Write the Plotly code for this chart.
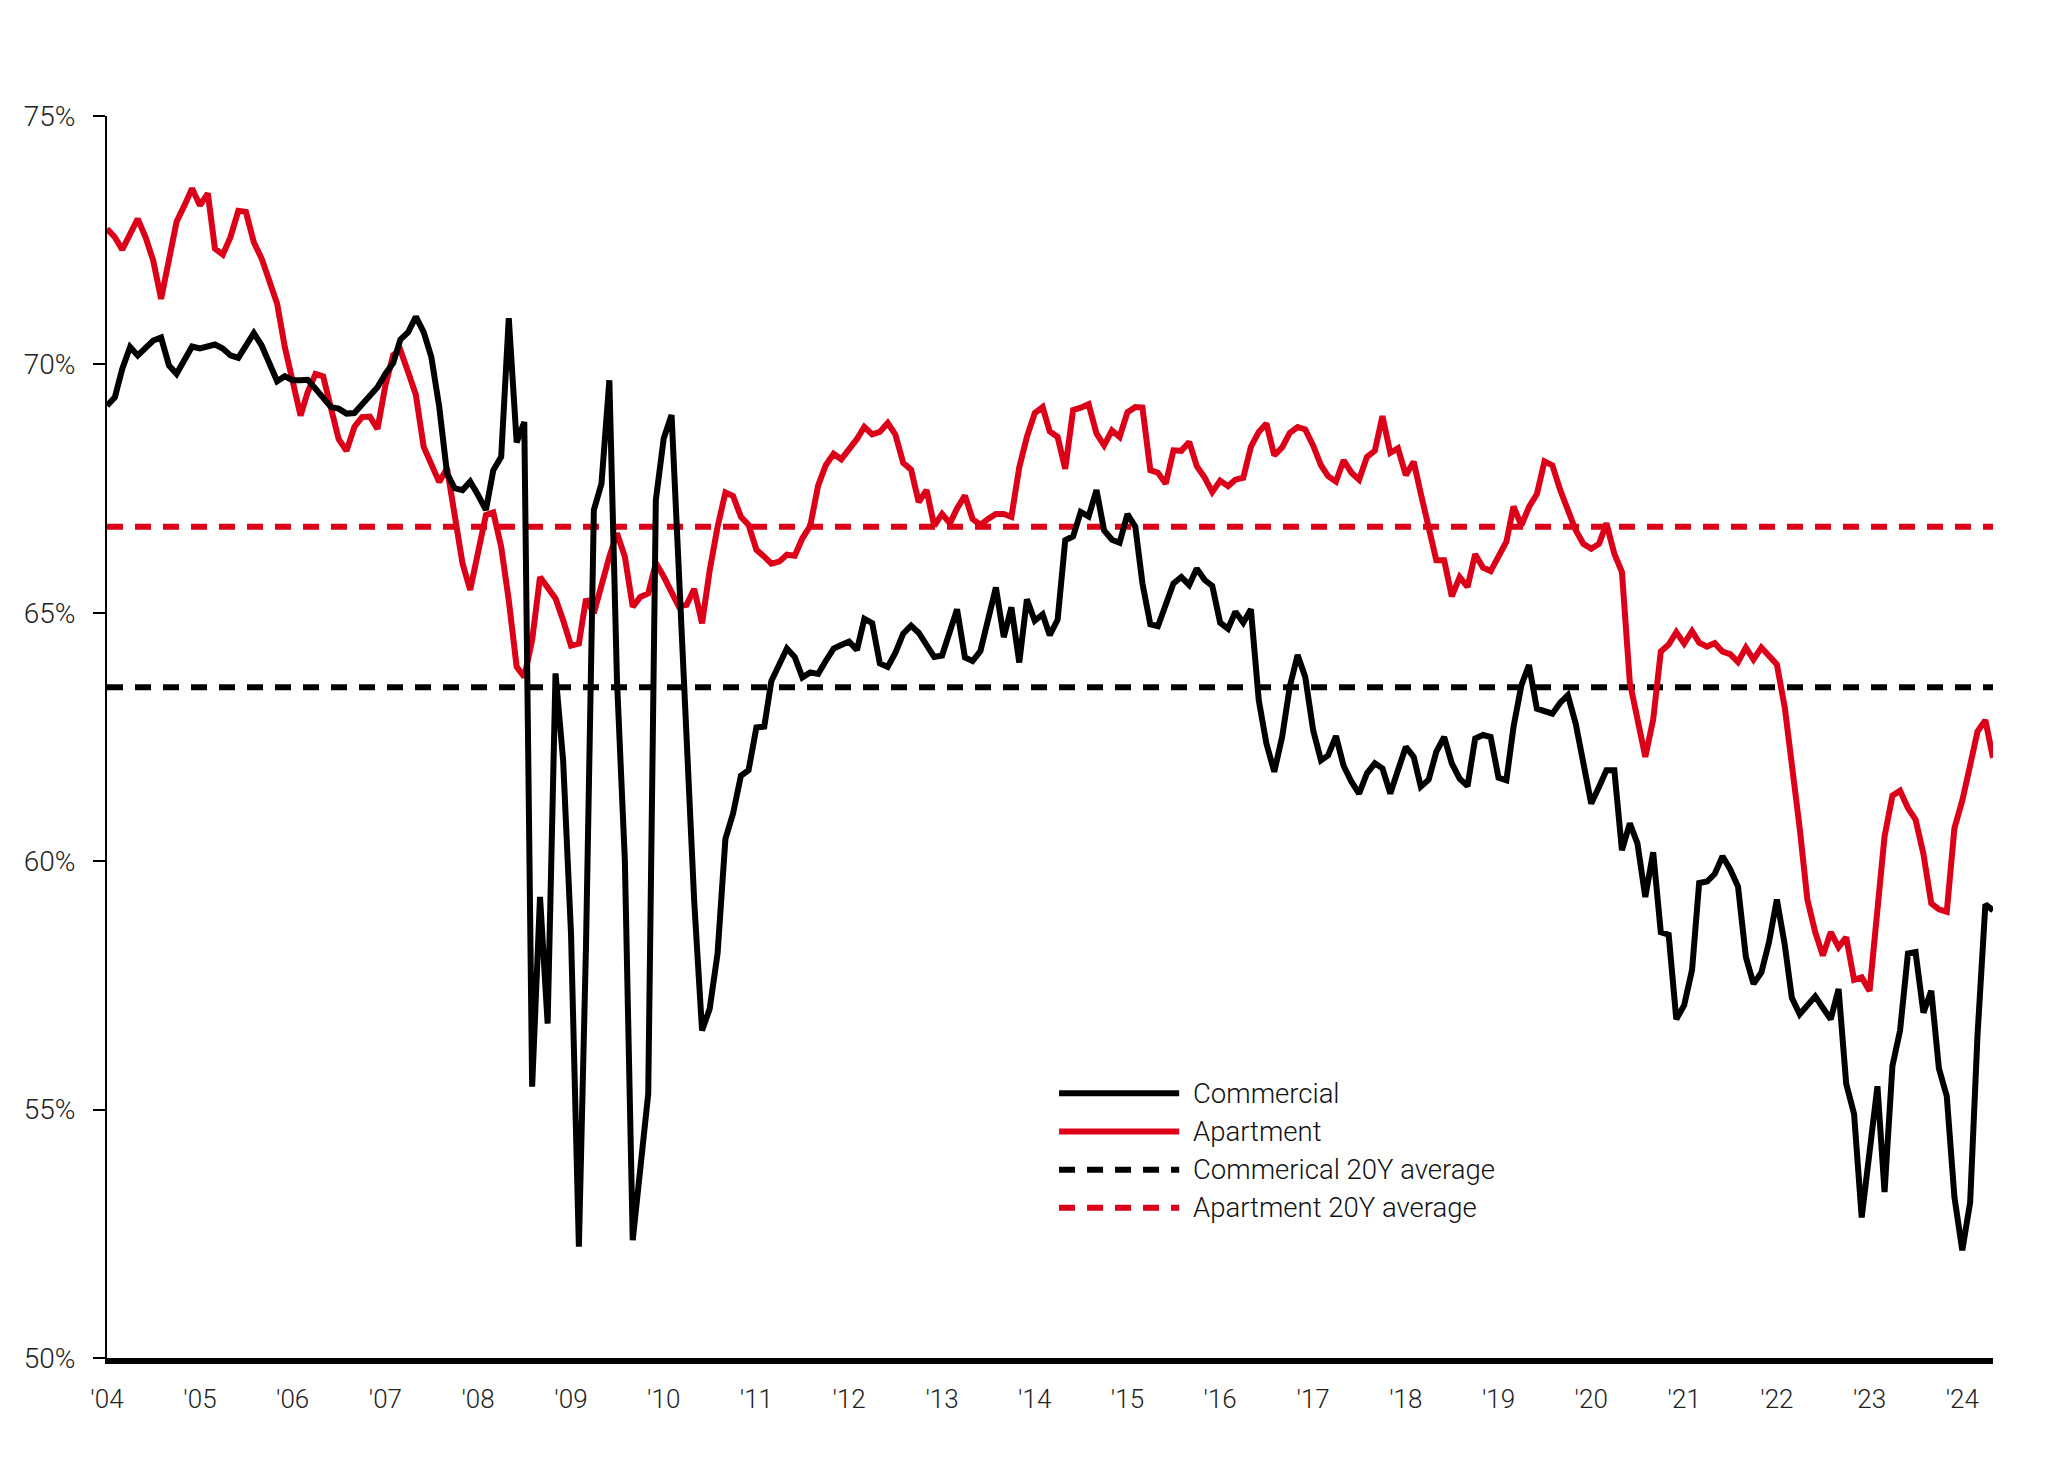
import pandas as pd
import plotly.graph_objects as go

# ---------------- data (monthly, Jan 2004 - May 2024) ----------------
start_month = "2004-01-01"

commercial = [
    69.17, 69.34, 69.91, 70.35, 70.18, 70.32, 70.48, 70.54, 69.98, 69.81, 70.08, 70.36,
    70.32, 70.36, 70.40, 70.32, 70.18, 70.13, 70.38, 70.63, 70.38, 70.05, 69.66, 69.76,
    69.68, 69.68, 69.69, 69.51, 69.34, 69.14, 69.11, 69.01, 69.02, 69.19, 69.33, 69.54,
    69.81, 70.03, 70.50, 70.65, 70.96, 70.65, 70.15, 69.15, 67.80, 67.51, 67.47, 67.64,
    67.37, 67.07, 67.87, 68.14, 70.93, 68.43, 68.84, 55.46, 59.28, 56.73, 63.78, 62.03,
    58.54, 52.24, 58.28, 67.07, 67.60, 69.68, 63.64, 60.02, 52.37, 53.85, 55.32, 67.27,
    68.51, 68.98, 66.00, 62.50, 59.20, 56.59, 57.03, 58.14, 60.45, 60.96, 61.72, 61.83,
    62.69, 62.71, 63.63, 63.96, 64.28, 64.11, 63.70, 63.80, 63.77, 64.03, 64.28, 64.35,
    64.42, 64.25, 64.88, 64.79, 63.98, 63.91, 64.19, 64.58, 64.74, 64.60, 64.35, 64.11,
    64.14, 64.65, 65.07, 64.10, 64.03, 64.23, 64.88, 65.51, 64.51, 65.11, 64.00, 65.27,
    64.84, 64.97, 64.55, 64.86, 66.46, 66.54, 67.03, 66.94, 67.47, 66.66, 66.47, 66.41,
    66.99, 66.73, 65.59, 64.77, 64.73, 65.15, 65.59, 65.72, 65.56, 65.89, 65.66, 65.54,
    64.80, 64.68, 65.02, 64.80, 65.07, 63.24, 62.37, 61.80, 62.50, 63.51, 64.15, 63.71,
    62.64, 62.03, 62.13, 62.52, 61.92, 61.60, 61.36, 61.77, 61.97, 61.87, 61.36, 61.83,
    62.30, 62.10, 61.50, 61.64, 62.20, 62.50, 61.97, 61.66, 61.51, 62.47, 62.54, 62.50,
    61.68, 61.63, 62.70, 63.54, 63.95, 63.07, 63.01, 62.97, 63.19, 63.34, 62.77, 61.90,
    61.16, 61.50, 61.83, 61.83, 60.22, 60.76, 60.36, 59.28, 60.18, 58.57, 58.52, 56.82,
    57.10, 57.81, 59.56, 59.59, 59.74, 60.10, 59.84, 59.49, 58.07, 57.53, 57.76, 58.37,
    59.23, 58.32, 57.25, 56.92, 57.12, 57.28, 57.05, 56.82, 57.43, 55.52, 54.91, 52.83,
    54.15, 55.47, 53.34, 55.88, 56.59, 58.14, 58.17, 56.95, 57.39, 55.83, 55.27, 53.24,
    52.17, 53.13, 56.50, 59.13, 59.01,
]

apartment = [
    72.73, 72.56, 72.31, 72.66, 72.93, 72.56, 72.09, 71.32, 72.09, 72.87, 73.20, 73.54,
    73.20, 73.44, 72.33, 72.21, 72.56, 73.09, 73.07, 72.46, 72.13, 71.66, 71.22, 70.35,
    69.64, 68.97, 69.44, 69.81, 69.76, 69.11, 68.50, 68.26, 68.74, 68.94, 68.95, 68.70,
    69.57, 70.19, 70.29, 69.84, 69.39, 68.34, 67.96, 67.63, 67.91, 67.00, 65.99, 65.46,
    66.26, 66.97, 67.02, 66.33, 65.25, 63.91, 63.71, 64.45, 65.72, 65.50, 65.29, 64.85,
    64.34, 64.38, 65.28, 64.99, 65.59, 66.13, 66.60, 66.13, 65.12, 65.32, 65.39, 66.00,
    65.73, 65.42, 65.13, 65.16, 65.48, 64.79, 65.85, 66.73, 67.42, 67.35, 66.93, 66.77,
    66.27, 66.13, 65.99, 66.03, 66.17, 66.15, 66.50, 66.75, 67.56, 67.97, 68.20, 68.09,
    68.28, 68.50, 68.74, 68.59, 68.64, 68.82, 68.59, 68.02, 67.88, 67.23, 67.47, 66.75,
    66.99, 66.80, 67.10, 67.36, 66.89, 66.77, 66.89, 66.99, 66.99, 66.93, 67.93, 68.54,
    69.02, 69.14, 68.65, 68.54, 67.90, 69.08, 69.13, 69.20, 68.61, 68.37, 68.67, 68.54,
    69.04, 69.14, 69.13, 67.87, 67.82, 67.60, 68.27, 68.26, 68.44, 67.95, 67.72, 67.43,
    67.66, 67.55, 67.68, 67.72, 68.34, 68.64, 68.81, 68.17, 68.33, 68.62, 68.74, 68.69,
    68.37, 67.97, 67.75, 67.64, 68.07, 67.82, 67.68, 68.14, 68.26, 68.96, 68.22, 68.31,
    67.77, 68.04, 67.40, 66.70, 66.06, 66.06, 65.33, 65.72, 65.52, 66.18, 65.91, 65.84,
    66.14, 66.43, 67.14, 66.76, 67.13, 67.39, 68.05, 67.97, 67.47, 67.03, 66.66, 66.39,
    66.29, 66.39, 66.80, 66.19, 65.82, 63.60, 62.80, 62.10, 62.85, 64.22, 64.36, 64.61,
    64.38, 64.63, 64.40, 64.32, 64.39, 64.22, 64.17, 64.01, 64.30, 64.06, 64.30, 64.13,
    63.96, 63.10, 61.98, 60.66, 59.23, 58.57, 58.10, 58.57, 58.27, 58.47, 57.61, 57.66,
    57.39, 58.98, 60.50, 61.32, 61.42, 61.07, 60.84, 60.15, 59.15, 59.03, 58.98, 60.66,
    61.22, 61.93, 62.61, 62.84, 62.08,
]

commercial_avg = 63.50
apartment_avg = 66.73

tick_years = list(range(2004, 2025))
tick_labels = ["'04", "'05", "'06", "'07", "'08", "'09", "'10", "'11", "'12", "'13", "'14",
               "'15", "'16", "'17", "'18", "'19", "'20", "'21", "'22", "'23", "'24"]
y_ticks = [50, 55, 60, 65, 70, 75]

legend_names = ["Commercial", "Apartment", "Commerical 20Y average", "Apartment 20Y average"]

# ---------------- figure ----------------
BLACK = "#000000"
RED = "#DC0018"
FONT = "Roboto, Liberation Sans, Arial, sans-serif"
LW = 6

months = pd.date_range(start_month, periods=len(commercial), freq="MS")
ends = [months[0], months[-1]]

fig = go.Figure()
fig.add_trace(go.Scatter(x=ends, y=[apartment_avg, apartment_avg], mode="lines",
                         line=dict(color=RED, width=LW, dash="16px,12px"),
                         name=legend_names[3], showlegend=False, hoverinfo="skip"))
fig.add_trace(go.Scatter(x=ends, y=[commercial_avg, commercial_avg], mode="lines",
                         line=dict(color=BLACK, width=LW, dash="16px,12px"),
                         name=legend_names[2], showlegend=False, hoverinfo="skip"))
fig.add_trace(go.Scatter(x=months, y=apartment, mode="lines",
                         line=dict(color=RED, width=LW),
                         name=legend_names[1], showlegend=False))
fig.add_trace(go.Scatter(x=months, y=commercial, mode="lines",
                         line=dict(color=BLACK, width=LW),
                         name=legend_names[0], showlegend=False))

# manual legend (long swatches as in the original)
leg_styles = [(BLACK, "solid"), (RED, "solid"), (BLACK, "16px,12px"), (RED, "16px,12px")]
leg_y = [0.2131, 0.1824, 0.1516, 0.1209]
for (col, dash), yy, name in zip(leg_styles, leg_y, legend_names):
    fig.add_shape(type="line", xref="paper", yref="paper", x0=0.5048, x1=0.5685,
                  y0=yy, y1=yy, line=dict(color=col, width=LW, dash=dash))
    fig.add_annotation(xref="paper", yref="paper", x=0.5748, y=yy, text=name,
                       showarrow=False, xanchor="left", yanchor="middle",
                       font=dict(family=FONT, size=27.5, color="#111111", weight=300))

fig.update_layout(
    width=2063, height=1460,
    margin=dict(l=99, r=78, t=108, b=110),
    paper_bgcolor="white", plot_bgcolor="white",
    font=dict(family=FONT, color="#222222", weight=300),
    showlegend=False,
)
fig.update_xaxes(
    type="date",
    range=[months[0], months[-1]],
    tickvals=[pd.Timestamp(f"{y}-01-01") for y in tick_years],
    ticktext=tick_labels,
    ticks="", showgrid=False, zeroline=False,
    showline=True, linecolor=BLACK, linewidth=6,
    tickfont=dict(family=FONT, size=26, color="#222222", weight=300),
    ticklabelstandoff=13,
)
fig.update_yaxes(
    range=[50, 75],
    tickvals=y_ticks,
    ticktext=[f"{v}%" for v in y_ticks],
    ticks="outside", ticklen=12, tickwidth=2, tickcolor=BLACK,
    showgrid=False, zeroline=False,
    showline=True, linecolor=BLACK, linewidth=2,
    tickfont=dict(family=FONT, size=28, color="#222222", weight=300),
    ticklabelstandoff=12,
)

fig.write_html("out.html")
